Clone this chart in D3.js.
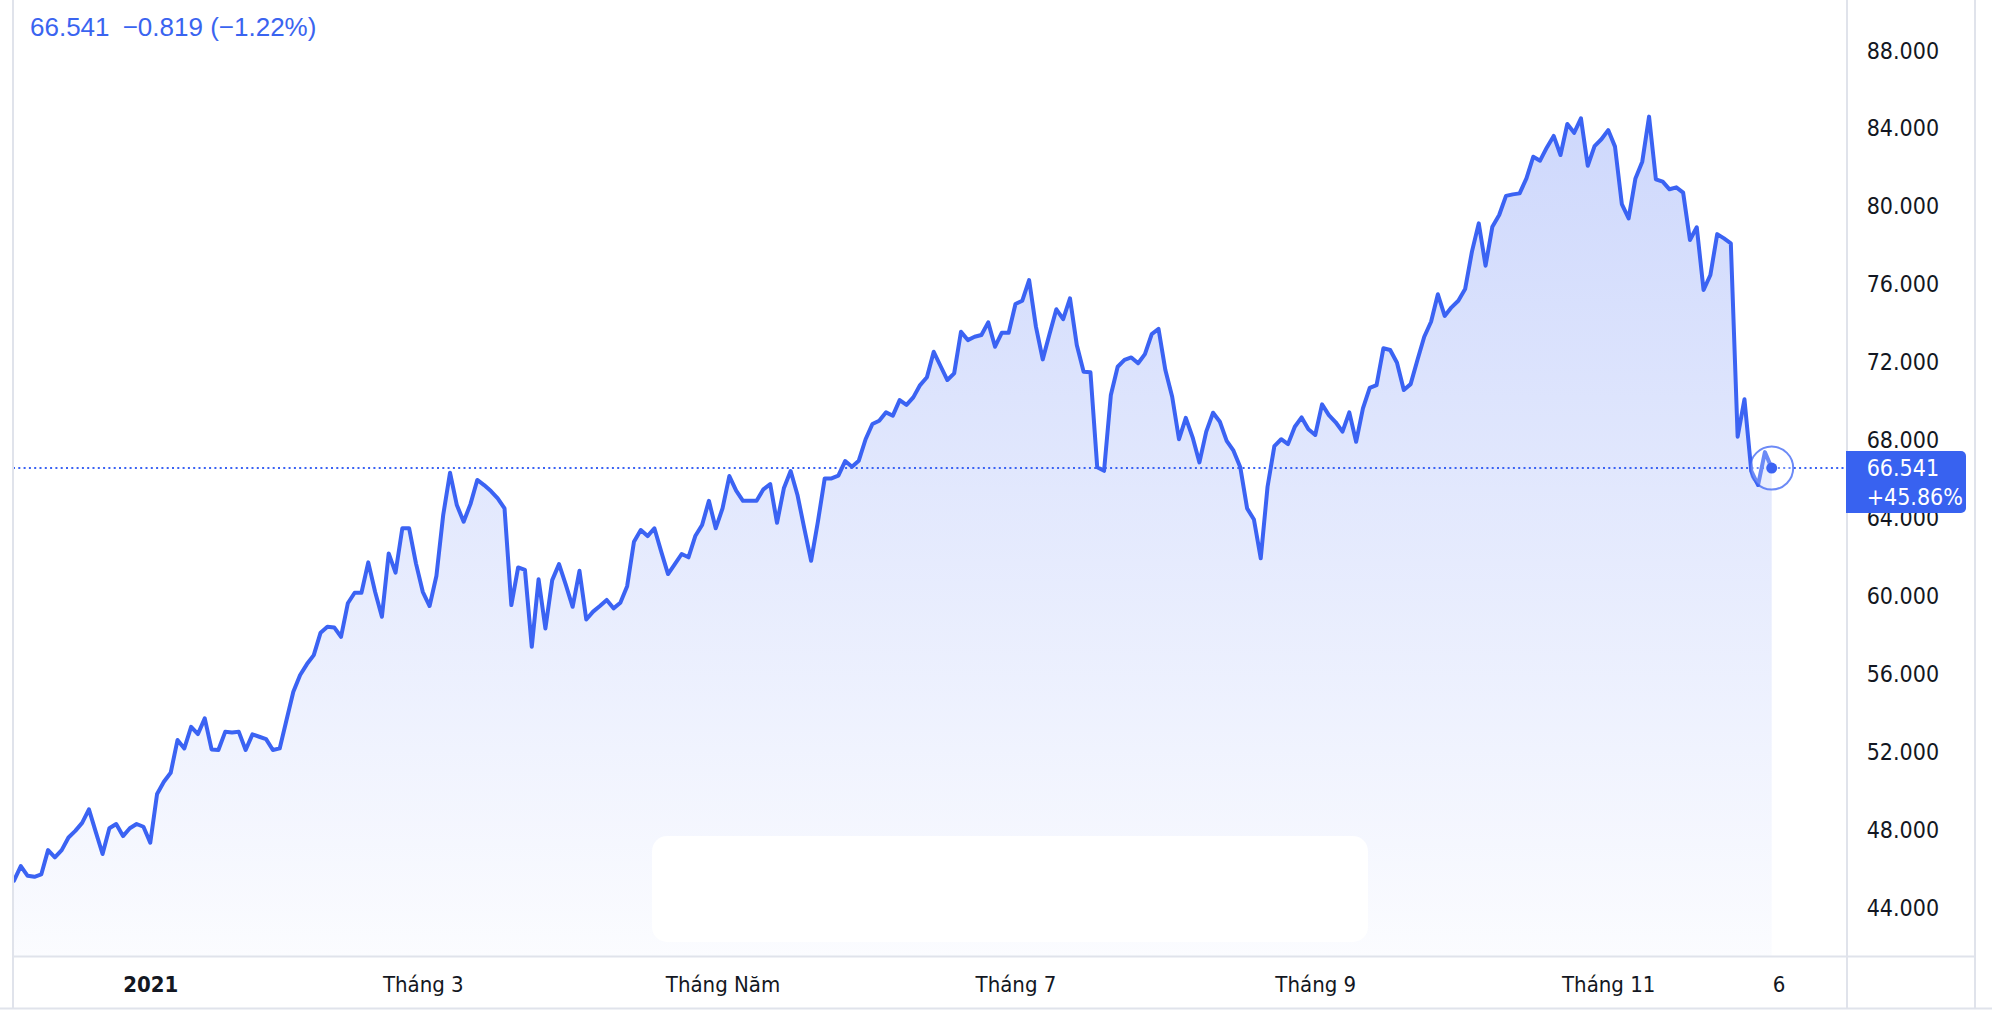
<!DOCTYPE html>
<html>
<head>
<meta charset="utf-8">
<script src="https://cdn.jsdelivr.net/npm/d3@7"></script>
<style>
  html, body { margin: 0; padding: 0; background: #ffffff; }
  svg { display: block; }
  .ax text { font-family: "DejaVu Sans Condensed", "DejaVu Sans", sans-serif; font-stretch: condensed; fill: #131722; }
</style>
</head>
<body>
<svg id="chart" width="1992" height="1016"></svg>
<script>
// ---------- data ----------
// daily closing values, one per trading session (index 0 .. 258)
const prices = [
  45.36, 46.11, 45.61, 45.56, 45.68, 46.93, 46.56, 46.93, 47.58, 47.92,
  48.33, 49.02, 47.87, 46.73, 48.05, 48.27, 47.65, 48.05, 48.27, 48.13,
  47.31, 49.81, 50.44, 50.90, 52.58, 52.15, 53.26, 52.89, 53.69, 52.10,
  52.07, 53.00, 52.97, 53.00, 52.07, 52.87, 52.75, 52.63, 52.07, 52.15,
  53.61, 55.06, 55.92, 56.48, 56.94, 58.09, 58.40, 58.36, 57.88, 59.60,
  60.14, 60.14, 61.70, 60.19, 58.91, 62.16, 61.17, 63.45, 63.45, 61.65,
  60.19, 59.46, 61.00, 64.13, 66.30, 64.64, 63.79, 64.69, 65.93, 65.67,
  65.36, 64.99, 64.47, 59.51, 61.44, 61.31, 57.37, 60.83, 58.31, 60.79,
  61.61, 60.54, 59.42, 61.27, 58.77, 59.17, 59.46, 59.77, 59.34, 59.63,
  60.48, 62.76, 63.36, 63.05, 63.45, 62.25, 61.10, 61.61, 62.13, 61.96,
  63.05, 63.62, 64.86, 63.45, 64.47, 66.13, 65.38, 64.86, 64.86, 64.86,
  65.45, 65.72, 63.73, 65.50, 66.39, 65.16, 63.45, 61.78, 63.79, 66.01,
  66.01, 66.15, 66.90, 66.61, 66.92, 68.02, 68.80, 68.97, 69.40, 69.23,
  70.03, 69.78, 70.17, 70.80, 71.20, 72.51, 71.78, 71.06, 71.40, 73.54,
  73.11, 73.28, 73.37, 74.02, 72.77, 73.49, 73.49, 74.96, 75.13, 76.19,
  73.80, 72.12, 73.42, 74.69, 74.18, 75.25, 72.86, 71.49, 71.46, 66.58,
  66.40, 70.29, 71.74, 72.09, 72.22, 71.92, 72.39, 73.42, 73.68, 71.57,
  70.20, 68.02, 69.12, 68.12, 66.83, 68.41, 69.38, 68.92, 67.94, 67.43,
  66.58, 64.47, 63.90, 61.91, 65.58, 67.67, 68.02, 67.77, 68.66, 69.14,
  68.53, 68.24, 69.81, 69.26, 68.89, 68.41, 69.40, 67.89, 69.60, 70.66,
  70.80, 72.69, 72.60, 71.95, 70.55, 70.85, 72.09, 73.28, 74.05, 75.46,
  74.35, 74.79, 75.13, 75.73, 77.65, 79.10, 76.93, 78.93, 79.53, 80.51,
  80.59, 80.64, 81.41, 82.52, 82.32, 83.00, 83.59, 82.61, 84.20, 83.75,
  84.49, 82.06, 83.07, 83.42, 83.89, 83.04, 80.09, 79.36, 81.41, 82.27,
  84.58, 81.36, 81.24, 80.85, 80.95, 80.68, 78.25, 78.90, 75.68, 76.45,
  78.55, 78.33, 78.08, 68.15, 70.07, 66.40, 65.67, 67.360, 66.541
];
// time-axis labels and the session index they sit on
const xTickLabels = ["2021", "Tháng 3", "Tháng Năm", "Tháng 7", "Tháng 9", "Tháng 11", "6"];
const xTickIndex  = [20, 60, 104, 147, 191, 234, 259];
const xTickBold   = [true, false, false, false, false, false, false];
// price-axis ticks
const yTicks = [44, 48, 52, 56, 60, 64, 68, 72, 76, 80, 84, 88];
// period change shown on the price label
const periodChangePct = 45.86;

// ---------- layout ----------
const W = 1992, H = 1016;
const plotL = 13, plotR = 1847, plotB = 956.5, axisR = 1975, axisB = 1008.5;
const blue = "#3b63f3";
const grid = "#e0e3eb";
const axisFont = '"DejaVu Sans Condensed", "DejaVu Sans", sans-serif';

const svg = d3.select("#chart");

const x = d3.scaleLinear().domain([0, prices.length - 1]).range([14, 1771.7]);
const y = d3.scaleLinear().domain([44, 88]).range([907.2, 50]);

const data = prices.map((v, i) => ({ i, v }));
const last = data[data.length - 1];
const prev = data[data.length - 2];

// defs
const defs = svg.append("defs");
defs.append("clipPath").attr("id", "plotClip")
  .append("rect").attr("x", plotL).attr("y", 0).attr("width", plotR - plotL).attr("height", plotB);
const grad = defs.append("linearGradient").attr("id", "areaGrad")
  .attr("gradientUnits", "userSpaceOnUse")
  .attr("x1", 0).attr("x2", 0)
  .attr("y1", y(d3.max(prices))).attr("y2", plotB);
grad.append("stop").attr("offset", 0).attr("stop-color", blue).attr("stop-opacity", 0.25);
grad.append("stop").attr("offset", 1).attr("stop-color", blue).attr("stop-opacity", 0.02);

const plot = svg.append("g").attr("clip-path", "url(#plotClip)");

// area fill
plot.append("path").datum(data)
  .attr("fill", "url(#areaGrad)")
  .attr("d", d3.area().x(d => x(d.i)).y0(plotB).y1(d => y(d.v)));

// watermark box at the bottom
plot.append("rect")
  .attr("x", 652).attr("y", 836).attr("width", 716).attr("height", 106)
  .attr("rx", 15).attr("fill", "#ffffff").attr("opacity", 0.92);

// last price dotted line
svg.append("line")
  .attr("x1", plotL).attr("x2", plotR)
  .attr("y1", y(last.v)).attr("y2", y(last.v))
  .attr("stroke", blue).attr("stroke-width", 2)
  .attr("stroke-dasharray", "2 3.3");

// price line
plot.append("path").datum(data)
  .attr("fill", "none")
  .attr("stroke", blue)
  .attr("stroke-width", 4)
  .attr("stroke-linejoin", "round")
  .attr("stroke-linecap", "round")
  .attr("d", d3.line().x(d => x(d.i)).y(d => y(d.v)));

// last point marker
svg.append("circle").attr("cx", x(last.i)).attr("cy", y(last.v)).attr("r", 21.5)
  .attr("fill", "rgba(255,255,255,0.25)").attr("stroke", blue).attr("stroke-opacity", 0.75).attr("stroke-width", 2);
svg.append("circle").attr("cx", x(last.i)).attr("cy", y(last.v)).attr("r", 5.5).attr("fill", blue);

// frame lines
const frame = svg.append("g").attr("stroke", grid).attr("stroke-width", 2);
frame.append("line").attr("x1", plotL).attr("x2", plotL).attr("y1", 0).attr("y2", axisB);
frame.append("line").attr("x1", plotR).attr("x2", plotR).attr("y1", 0).attr("y2", axisB);
frame.append("line").attr("x1", axisR).attr("x2", axisR).attr("y1", 0).attr("y2", axisB);
frame.append("line").attr("x1", plotL).attr("x2", axisR).attr("y1", plotB).attr("y2", plotB);
frame.append("line").attr("x1", 0).attr("x2", W).attr("y1", axisB).attr("y2", axisB);

// price axis
const yAxis = d3.axisRight(y).tickValues(yTicks).tickFormat(d3.format(".3f")).tickSize(0).tickPadding(0);
const yg = svg.append("g").attr("class", "ax").attr("transform", `translate(1866.7,0)`).call(yAxis);
yg.select(".domain").remove();
yg.selectAll("text").attr("font-size", 23).attr("dy", "0.35em").attr("x", 0)
  .style("font-family", axisFont);

// time axis
const xAxis = d3.axisBottom(x).tickValues(xTickIndex)
  .tickFormat((d, k) => xTickLabels[k]).tickSize(0).tickPadding(0);
const xg = svg.append("g").attr("class", "ax").attr("transform", `translate(0,984.7)`).call(xAxis);
xg.select(".domain").remove();
xg.selectAll("text").attr("font-size", 22).attr("dy", "0.35em").attr("y", 0)
  .style("font-family", axisFont)
  .attr("font-weight", (d, k) => xTickBold[k] ? "bold" : "normal");

// last price label box (covers part of the 64.000 tick, as in the reference)
const boxY = 451;
svg.append("path")
  .attr("d", `M${plotR - 1},${boxY} h115 a5,5 0 0 1 5,5 v52 a5,5 0 0 1 -5,5 h-115 z`)
  .attr("fill", "#3862f0");
const boxText = svg.append("g").attr("font-family", axisFont).attr("font-stretch", "condensed")
  .attr("font-size", 23).attr("fill", "#ffffff");
boxText.append("text").attr("x", 1866.7).attr("y", y(last.v)).attr("dy", "0.35em")
  .text(d3.format(".3f")(last.v));
boxText.append("text").attr("x", 1866.7).attr("y", y(last.v) + 28.7).attr("dy", "0.35em")
  .text("+" + periodChangePct.toFixed(2) + "%");

// header legend
const chg = last.v - prev.v;
const pct = chg / prev.v * 100;
const header = svg.append("g").attr("font-family", '"Liberation Sans", Arial, sans-serif')
  .attr("font-size", 26).attr("fill", "#3a64f0");
header.append("text").attr("x", 30).attr("y", 36).text(d3.format(".3f")(last.v));
header.append("text").attr("x", 122.7).attr("y", 36)
  .text((chg < 0 ? "\u2212" : "+") + d3.format(".3f")(Math.abs(chg)) +
        " (" + (pct < 0 ? "\u2212" : "+") + d3.format(".2f")(Math.abs(pct)) + "%)");
</script>
</body>
</html>
